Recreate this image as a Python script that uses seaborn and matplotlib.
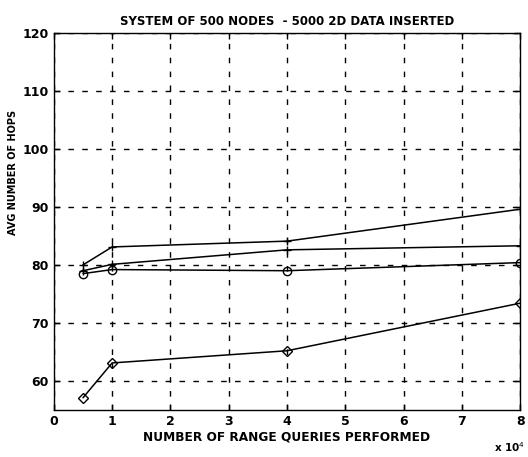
import matplotlib
matplotlib.use("Agg")
import matplotlib.pyplot as plt
import seaborn as sns
import pandas as pd

sns.set_theme(style="white")
plt.rcParams["font.family"] = ["DejaVu Sans"]
plt.rcParams["text.color"] = "black"
plt.rcParams["axes.labelcolor"] = "black"

# Number of range queries performed (x 10^4)
queries = [0.5, 1, 4, 8]

# Average number of hops per configuration
series_a = [80.0, 83.1, 84.1, 89.6]
series_b = [79.0, 80.1, 82.6, 83.3]
series_c = [78.5, 79.2, 79.0, 80.4]
series_d = [57.1, 63.1, 65.2, 73.4]

names = ["A", "B", "C", "D"]
markers = {"A": "+", "B": "+", "C": "o", "D": "D"}
msizes = {"A": 6, "B": 6, "C": 6, "D": 5}

rows = []
for name, vals in zip(names, [series_a, series_b, series_c, series_d]):
    for q, v in zip(queries, vals):
        rows.append({"queries": q, "hops": v, "series": name})
df = pd.DataFrame(rows)

fig = plt.figure(figsize=(5.28, 4.57), dpi=100)
ax = fig.add_axes([0.102, 0.103, 0.883, 0.825])

for name in names:
    sub = df[df["series"] == name]
    sns.lineplot(data=sub, x="queries", y="hops", ax=ax, color="black",
                 linewidth=1.1, marker=markers[name], markersize=msizes[name],
                 markerfacecolor="none", markeredgecolor="black",
                 markeredgewidth=1.0, legend=False)

ax.set_xlim(0, 8)
ax.set_ylim(55, 120)
ax.set_xticks(range(0, 9))
ax.set_yticks(range(60, 121, 10))
ax.tick_params(direction="in", length=4, width=1, labelsize=9, colors="black",
               top=True, right=True, left=True, bottom=True)
for lab in ax.get_xticklabels() + ax.get_yticklabels():
    lab.set_fontweight("bold")

ax.grid(True, color="black", linestyle=(0, (4, 6)), linewidth=1.0)
for sp in ax.spines.values():
    sp.set_color("black")
    sp.set_linewidth(1.0)

ax.set_xlabel("NUMBER OF RANGE QUERIES PERFORMED", fontsize=8.7,
              fontweight="bold", labelpad=2)
ax.set_ylabel("AVG NUMBER OF HOPS", fontsize=7, fontweight="bold")
ax.yaxis.set_label_coords(-0.077, 0.63)
ax.set_title("SYSTEM OF 500 NODES  - 5000 2D DATA INSERTED", fontsize=8.5,
             fontweight="bold", pad=6)
fig.text(0.935, 0.012, r"x 10$^4$", fontsize=7.5, fontweight="bold")

fig.savefig("out.png", dpi=100, facecolor="white")
